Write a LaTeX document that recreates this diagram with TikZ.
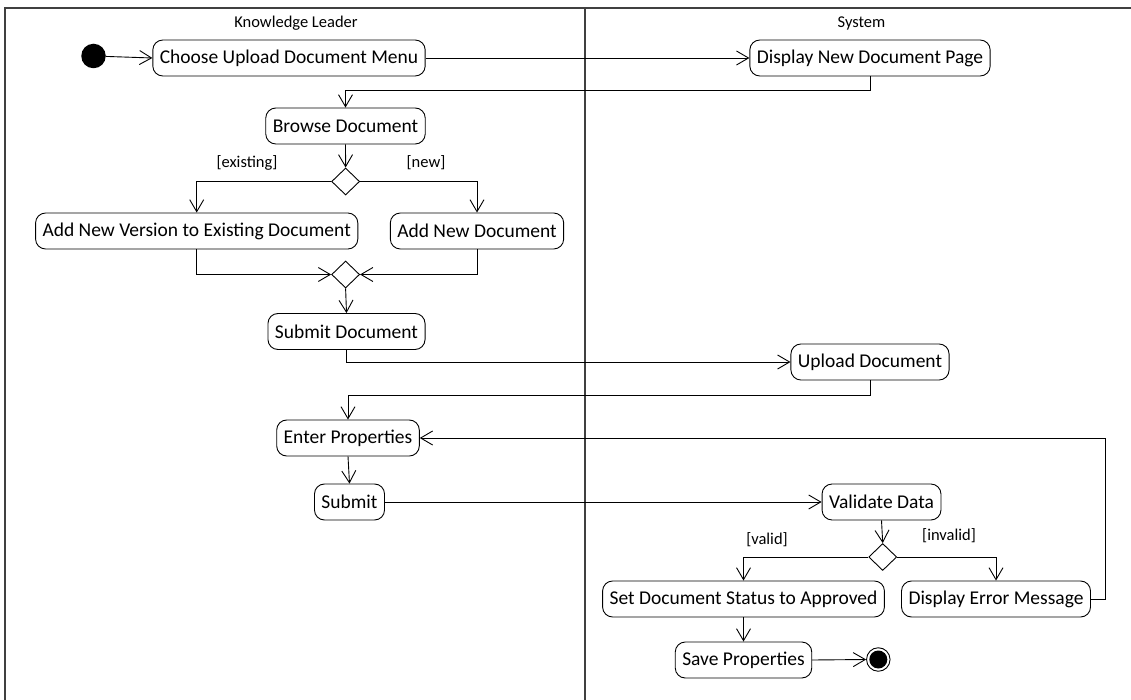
\documentclass[tikz,border=0pt]{standalone}
\usepackage{fontspec}
\setmainfont{Carlito}
\usetikzlibrary{arrows.meta,shapes.geometric}
\begin{document}
\begin{tikzpicture}[x=1pt,y=-1pt,
  act/.style={draw, rounded corners=10pt, line width=0.9pt, minimum height=36pt, inner xsep=7pt, inner ysep=0pt, font=\fontsize{19.5}{23}\selectfont},
  dec/.style={draw, diamond, line width=0.9pt, minimum width=28pt, minimum height=27pt, inner sep=0pt},
  flow/.style={draw, line width=0.9pt, -{Straight Barb[length=12pt,width=14pt,line width=0.9pt]}},
  lane/.style={draw=black!75, line width=1.3pt},
  guard/.style={font=\fontsize{16.5}{19}\selectfont, inner sep=0pt},
  lanelabel/.style={font=\fontsize{16.5}{19}\selectfont, inner sep=0pt}]
\useasboundingbox (0,0) rectangle (1131,700);
\fill[white] (0,0) rectangle (1131,700);
% swimlane frame
\draw[lane] (5,700) -- (5,8) -- (1131,8);
\draw[lane] (585,8) -- (585,700);
\node[lanelabel] (kl) at (296,23) {Knowledge Leader};
\node[lanelabel] (sys) at (861.5,23) {System};
% nodes
\node[circle, fill=black, minimum size=24.5pt, inner sep=0pt] (init) at (93.5,56) {};
\node[act] (choose) at (289,58) {Choose Upload Document Menu};
\node[act] (display) at (870,58) {Display New Document Page};
\node[act] (browse) at (345.5,126) {Browse Document};
\node[dec] (dec1) at (345.6,181.5) {};
\node[act] (addver) at (196.7,231) {Add New Version to Existing Document};
\node[act] (addnew) at (477,231) {Add New Document};
\node[dec] (merge) at (345.6,274.5) {};
\node[act] (subdoc) at (346.5,331.5) {Submit Document};
\node[act] (upload) at (870,362) {Upload Document};
\node[act] (enter) at (348,438) {Enter Properties};
\node[act] (submit) at (349.5,502) {Submit};
\node[act] (validate) at (881.5,502) {Validate Data};
\node[dec] (dec2) at (882.7,557) {};
\node[act] (setdoc) at (743.5,599) {Set Document Status to Approved};
\node[act] (err) at (996,599) {Display Error Message};
\node[act] (save) at (743.5,660) {Save Properties};
\node[circle, draw, line width=0.9pt, minimum size=23.5pt, inner sep=0pt] (final) at (878.3,659.5) {};
\fill (final.center) circle (9pt);
% guards
\node[guard] (gex) at (247,163) {[existing]};
\node[guard] (gnew) at (426,163) {[new]};
\node[guard] (gval) at (767,540) {[valid]};
\node[guard] (ginv) at (949,536) {[invalid]};
% connectors
\draw[flow] (init) -- (choose.west);
\draw[flow] (choose.east) -- (display.west);
\draw[flow] (display.south) -- ++(0,13.7) -| (browse.north);
\draw[flow] (browse.south) -- (dec1.north);
\draw[flow] (dec1.west) -| (addver.north);
\draw[flow] (dec1.east) -| (addnew.north);
\draw[flow] (addver.south) |- (merge.west);
\draw[flow] (addnew.south) |- (merge.east);
\draw[flow] (merge.south) -- (subdoc.north);
\draw[flow] (subdoc.south) |- (upload.west);
\draw[flow] (upload.south) -- ++(0,15) -| (enter.north);
\draw[flow] (enter.south) -- (submit.north);
\draw[flow] (submit.east) -- (validate.west);
\draw[flow] (validate.south) -- (dec2.north);
\draw[flow] (dec2.west) -| (setdoc.north);
\draw[flow] (dec2.east) -| (err.north);
\draw[flow] (err.east) -- ++(14,0) |- (enter.east);
\draw[flow] (setdoc.south) -- (save.north);
\draw[flow] (save.east) -- (final.west);
\end{tikzpicture}
\end{document}
